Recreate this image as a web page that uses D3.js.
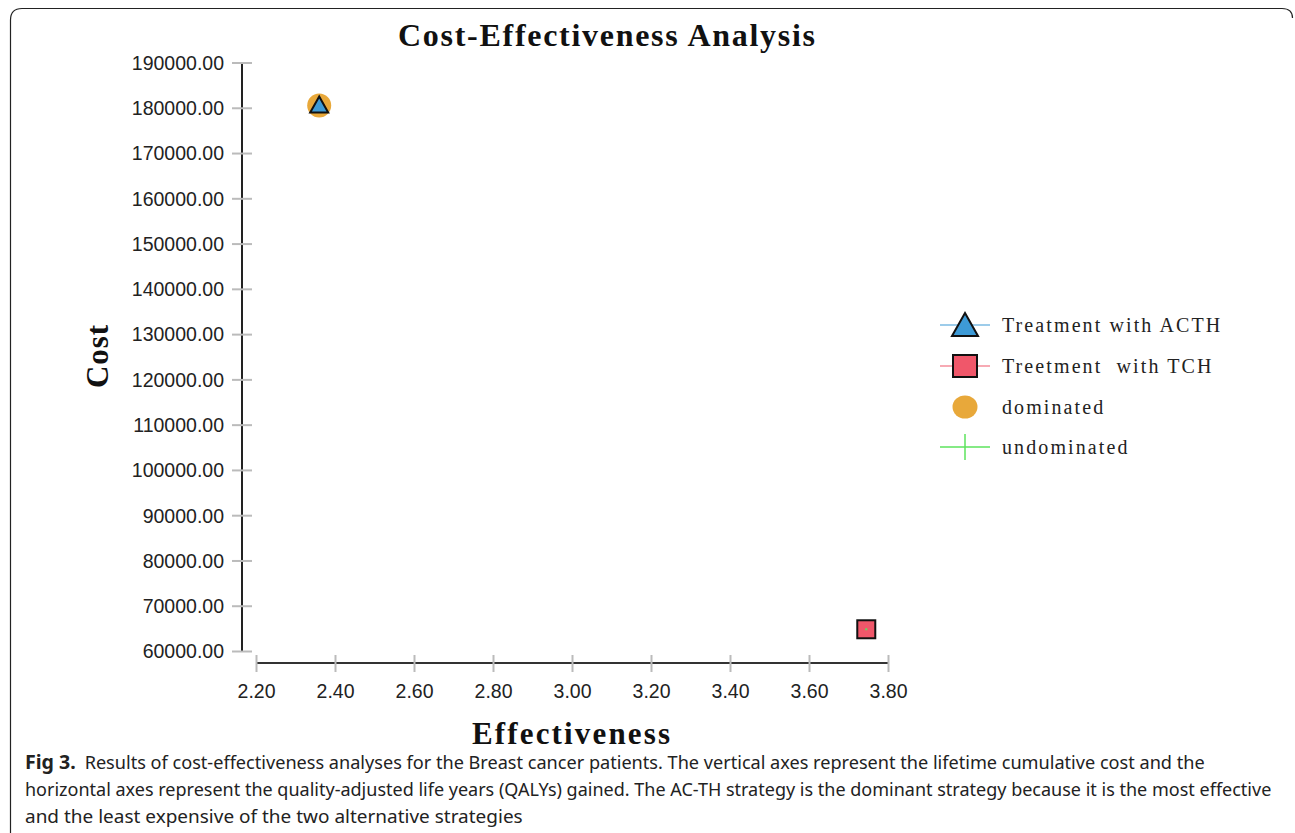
<!DOCTYPE html>
<html><head><meta charset="utf-8">
<script src="https://cdn.jsdelivr.net/npm/d3@7"></script>
<style>html,body{margin:0;padding:0;background:#fff;}svg{display:block;}</style>
</head><body>
<svg id="c" width="1295" height="833"></svg>
<script>
const strategies = ["Treatment with ACTH", "Treetment  with TCH"];
const effectiveness = [2.36, 3.745];
const cost = [180500, 64800];
const dominance = ["dominated", "undominated"];
const xTicks = [2.2, 2.4, 2.6, 2.8, 3.0, 3.2, 3.4, 3.6, 3.8];
const yTicks = [60000, 70000, 80000, 90000, 100000, 110000, 120000, 130000, 140000, 150000, 160000, 170000, 180000, 190000];
const legendLabels = ["Treatment with ACTH", "Treetment  with TCH", "dominated", "undominated"];
const captionLines = [
  "Results of cost-effectiveness analyses for the Breast cancer patients. The vertical axes represent the lifetime cumulative cost and the",
  "horizontal axes represent the quality-adjusted life years (QALYs) gained. The AC-TH strategy is the dominant strategy because it is the most effective",
  "and the least expensive of the two alternative strategies"
];

const svg = d3.select("#c");
// frame
svg.append("path").attr("d","M10.5,833 L10.5,20 Q10.5,8.5 22,8.5 L1282,8.5 Q1292.5,8.5 1292.5,18")
  .attr("fill","none").attr("stroke","#222").attr("stroke-width",1.2);

const x = d3.scaleLinear().domain([2.2, 3.8]).range([256, 888]);
const y = d3.scaleLinear().domain([60000, 190000]).range([651, 62.5]);

const serif = "'Liberation Serif','DejaVu Serif',serif";
const sans = "'Liberation Sans',Arial,sans-serif";

// title
svg.append("text").attr("x",398).attr("y",46)
  .attr("font-family",serif).attr("font-weight","bold").attr("font-size",32).attr("fill","#111")
  .attr("textLength",417).attr("lengthAdjust","spacing")
  .text("Cost-Effectiveness Analysis");

// y axis
const yAxis = d3.axisLeft(y).tickValues(yTicks).tickSize(0).tickPadding(0).tickFormat(d3.format(".2f"));
const gy = svg.append("g").attr("transform","translate(242,0)").call(yAxis);
gy.select(".domain").attr("stroke","#222").attr("stroke-width",2).attr("d",`M0,${y(190000)}V${y(60000)}`);
gy.selectAll(".tick line").remove();
gy.selectAll(".tick").append("line").attr("x1",-10).attr("x2",10).attr("stroke","#bbb").attr("stroke-width",2);
gy.selectAll(".tick text").attr("x",-18).attr("dy","0.35em").attr("font-family",sans).attr("font-size",19.5).attr("fill","#222");

// x axis
const xAxis = d3.axisBottom(x).tickValues(xTicks).tickSize(0).tickPadding(0).tickFormat(d3.format(".2f"));
const gx = svg.append("g").attr("transform","translate(0,663)").call(xAxis);
gx.select(".domain").attr("stroke","#333").attr("stroke-width",2).attr("d",`M${x(2.2)},0H${x(3.8)}`);
gx.selectAll(".tick line").remove();
gx.selectAll(".tick").append("line").attr("y1",-8).attr("y2",9).attr("stroke","#bbb").attr("stroke-width",2);
gx.selectAll(".tick text").attr("y",35).attr("dy",0).attr("font-family",sans).attr("font-size",19.5).attr("fill","#222");

// axis titles
svg.append("text").attr("x",472).attr("y",744)
  .attr("font-family",serif).attr("font-weight","bold").attr("font-size",31).attr("fill","#111")
  .attr("textLength",198).attr("lengthAdjust","spacing").text("Effectiveness");
svg.append("text").attr("transform","translate(108,388) rotate(-90)")
  .attr("font-family",serif).attr("font-weight","bold").attr("font-size",31).attr("fill","#111")
  .attr("textLength",63).attr("lengthAdjust","spacing").text("Cost");

// marks
const colors = {tri:"#3d9ad6", sq:"#f0576a", dom:"#e8a83a", undom:"#5de35d"};
const pts = strategies.map((s,i)=>({s, e:effectiveness[i], c:cost[i], d:dominance[i], i}));
pts.forEach(p=>{
  const g = svg.append("g").attr("transform",`translate(${x(p.e)},${y(p.c)})`);
  if (p.d==="dominated") g.append("circle").attr("r",12).attr("fill",colors.dom);
  if (p.i===0) {
    g.append("path").attr("d","M0,-9 L9,7 L-9,7 Z").attr("fill",colors.tri).attr("stroke","#111").attr("stroke-width",2);
  } else {
    g.append("rect").attr("x",-9).attr("y",-9).attr("width",18).attr("height",18).attr("fill",colors.sq).attr("stroke","#111").attr("stroke-width",2);
  }
  if (p.d==="undominated") {
    g.append("rect").attr("x",-1).attr("y",-1).attr("width",2).attr("height",2).attr("fill",colors.undom);
  }
});

// legend
const lg = svg.append("g").attr("transform","translate(965,0)");
const rowsY = [325, 366, 407, 447];
legendLabels.forEach((lab,i)=>{
  const g = lg.append("g").attr("transform",`translate(0,${rowsY[i]})`);
  if (i===0) {
    g.append("line").attr("x1",-25).attr("x2",25).attr("stroke",colors.tri).attr("stroke-width",1.2);
    g.append("path").attr("d","M0,-12 L13,11 L-13,11 Z").attr("fill",colors.tri).attr("stroke","#111").attr("stroke-width",2);
  } else if (i===1) {
    g.append("line").attr("x1",-25).attr("x2",25).attr("stroke",colors.sq).attr("stroke-width",1.2);
    g.append("rect").attr("x",-12).attr("y",-11).attr("width",24).attr("height",22).attr("fill",colors.sq).attr("stroke","#111").attr("stroke-width",2);
  } else if (i===2) {
    g.append("ellipse").attr("rx",12.5).attr("ry",11.5).attr("fill",colors.dom);
  } else {
    g.append("line").attr("x1",-25).attr("x2",25).attr("stroke",colors.undom).attr("stroke-width",1.5);
    g.append("line").attr("y1",-13).attr("y2",13).attr("stroke",colors.undom).attr("stroke-width",1.5);
  }
  g.append("text").attr("x",37).attr("y",0).attr("dy","0.35em").attr("font-family",serif)
    .style("white-space","pre")
    .attr("font-size",20).attr("fill","#222").attr("letter-spacing",2.1).text(lab);
});

// caption
const cap = svg.append("g").attr("font-family","'Noto Sans','Open Sans',sans-serif").attr("font-size",18.5).attr("fill","#222");
const t0 = cap.append("text").attr("x",25).attr("y",769);
t0.append("tspan").attr("font-weight","bold").attr("font-size",20).text("Fig 3.");
t0.append("tspan").attr("dx",9).text(captionLines[0]);
const w = [1197-25, 1272-25, 523-25];
captionLines.slice(1).forEach((l,i)=>{
  cap.append("text").attr("x",25).attr("y",796+27*i).text(l);
});
cap.selectAll("text").each(function(d,i){
  const bb = this.getComputedTextLength();
  const scale = w[i]/bb;
  d3.select(this).attr("transform",`translate(25,0) scale(${scale},1) translate(-25,0)`);
});
</script>
</body></html>
